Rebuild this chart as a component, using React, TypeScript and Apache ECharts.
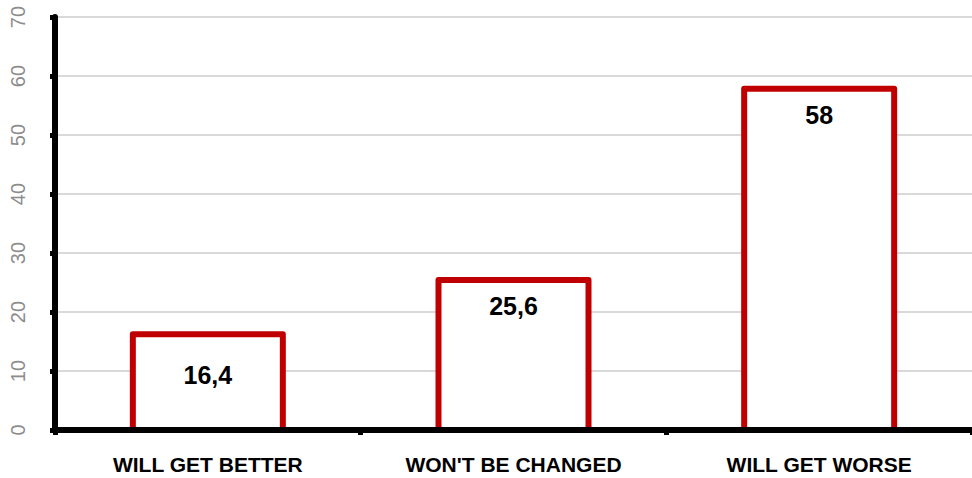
import React, { useEffect, useRef } from "react";
import * as echarts from "echarts";

const categories = ["WILL GET BETTER", "WON'T BE CHANGED", "WILL GET WORSE"];
const values = [16.4, 25.6, 58];
const yTicks = [0, 10, 20, 30, 40, 50, 60, 70];

export default function App() {
  const ref = useRef<HTMLDivElement>(null);
  useEffect(() => {
    const chart = echarts.init(ref.current!, null, { renderer: "svg" });
    const font = "Arial, 'Liberation Sans', sans-serif";
    chart.setOption({
      animation: false,
      grid: { left: 55, right: 0, top: 17, bottom: 48 },
      xAxis: {
        type: "category",
        data: categories,
        z: 5,
        axisLine: { lineStyle: { color: "#000", width: 6 } },
        axisTick: { show: true, length: 5, lineStyle: { color: "#000", width: 5 } },
        axisLabel: { color: "#000", fontWeight: "bold", fontSize: 21, fontFamily: font, margin: 24 },
      },
      yAxis: {
        type: "value",
        min: yTicks[0],
        max: yTicks[yTicks.length - 1],
        interval: 10,
        axisLine: { show: true, lineStyle: { color: "#000", width: 6 } },
        axisTick: { show: true, length: 5, lineStyle: { color: "#000", width: 5 } },
        axisLabel: { color: "#8c8c8c", fontSize: 20, fontFamily: font, rotate: 90, margin: 27 },
        splitLine: { lineStyle: { color: "#d9d9d9", width: 2 } },
      },
      series: [
        {
          type: "custom",
          z: 3,
          data: values.map((v, i) => [i, v]),
          encode: { x: 0, y: 1 },
          renderItem: (params: any, api: any) => {
            const idx = api.value(0);
            const v = api.value(1);
            const top = api.coord([idx, v]);
            const base = api.coord([idx, 0]);
            const cx = top[0];
            const half = 75;
            const ty = top[1] + 1;
            const by = base[1];
            const offset = params.dataIndex === 0 ? 42 : 27;
            return {
              type: "group",
              children: [
                {
                  type: "rect",
                  shape: { x: cx - half, y: ty, width: half * 2, height: by - ty },
                  style: { fill: "#fff" },
                },
                {
                  type: "polyline",
                  shape: {
                    points: [
                      [cx - half, by],
                      [cx - half, ty],
                      [cx + half, ty],
                      [cx + half, by],
                    ],
                  },
                  style: { stroke: "#c00000", lineWidth: 6, fill: null, lineJoin: "round" },
                },
                {
                  type: "text",
                  z2: 10,
                  style: {
                    text: String(v).replace(".", ","),
                    x: cx,
                    y: top[1] + offset,
                    align: "center",
                    verticalAlign: "middle",
                    fill: "#000",
                    fontSize: 25,
                    fontWeight: "bold",
                    fontFamily: font,
                  },
                },
              ],
            };
          },
        },
      ],
    });
    return () => chart.dispose();
  }, []);
  return <div ref={ref} style={{ width: 972, height: 478, position: "absolute", left: 0, top: 0 }} />;
}
